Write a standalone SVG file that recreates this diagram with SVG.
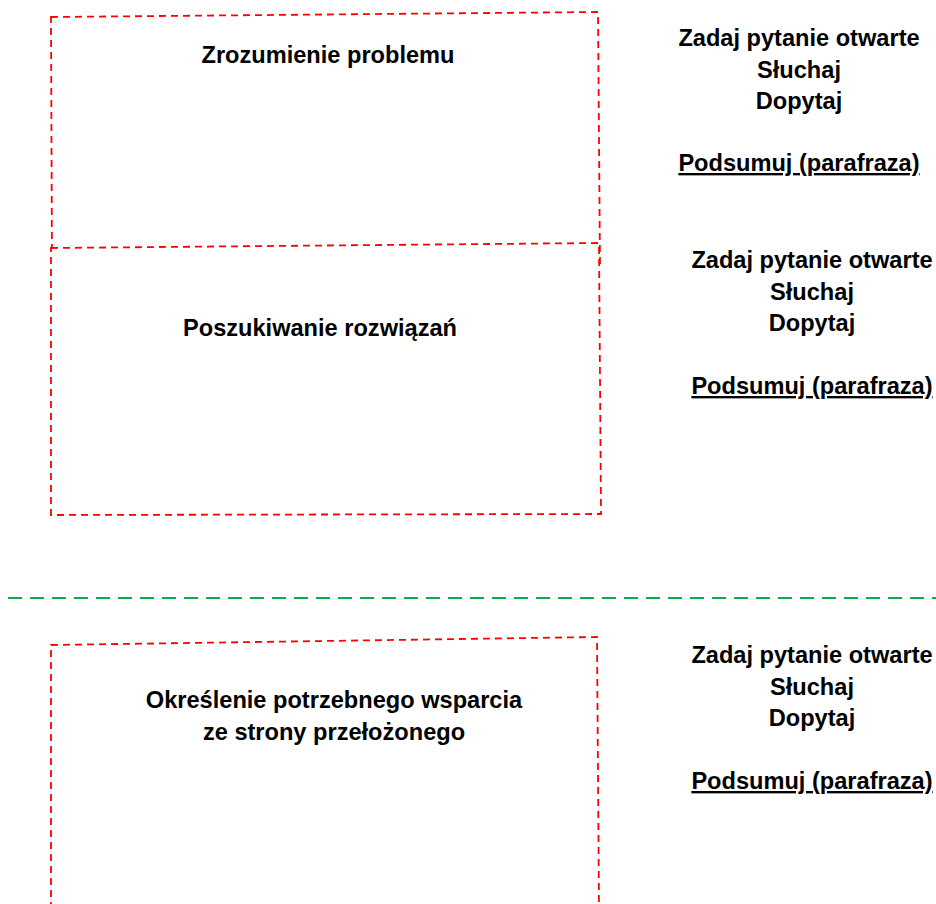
<svg xmlns="http://www.w3.org/2000/svg" width="936" height="904" viewBox="0 0 936 904">
<style>
.box{fill:#ffffff;stroke:#ff0000;stroke-width:1.8;stroke-dasharray:7 5}
.sep{fill:none;stroke:#00b050;stroke-width:2.2;stroke-dasharray:14 8}
text{font-family:"Liberation Sans",Arial,sans-serif;font-weight:bold;font-size:23.6px;fill:#000000;text-anchor:middle}
.u{text-decoration:underline}
</style>
<rect width="936" height="904" fill="#ffffff"/>
<g id="box-zrozumienie">
<polygon class="box" points="51,17 598,12 600,266 52,270"/>
<text x="328" y="63">Zrozumienie problemu</text>
</g>
<g id="box-poszukiwanie">
<polygon class="box" points="51,248 599,243 601,514 51,515"/>
<text x="320" y="336">Poszukiwanie rozwiązań</text>
</g>
<g id="box-wsparcie">
<polygon class="box" points="51,645 597,637 599,910 51,910"/>
<text x="334" y="708">Określenie potrzebnego wsparcia</text>
<text x="334" y="740">ze strony przełożonego</text>
</g>
<g id="tips-1">
<text x="799" y="46">Zadaj pytanie otwarte</text>
<text x="799" y="78">Słuchaj</text>
<text x="799" y="109">Dopytaj</text>
<text x="799" y="171" class="u">Podsumuj (parafraza)</text>
</g>
<g id="tips-2">
<text x="812" y="268">Zadaj pytanie otwarte</text>
<text x="812" y="300">Słuchaj</text>
<text x="812" y="331">Dopytaj</text>
<text x="812" y="394" class="u">Podsumuj (parafraza)</text>
</g>
<g id="tips-3">
<text x="812" y="663">Zadaj pytanie otwarte</text>
<text x="812" y="695">Słuchaj</text>
<text x="812" y="726">Dopytaj</text>
<text x="812" y="789" class="u">Podsumuj (parafraza)</text>
</g>
<g id="connectors">
<line class="sep" x1="8" y1="598" x2="936" y2="598"/>
</g>
</svg>
